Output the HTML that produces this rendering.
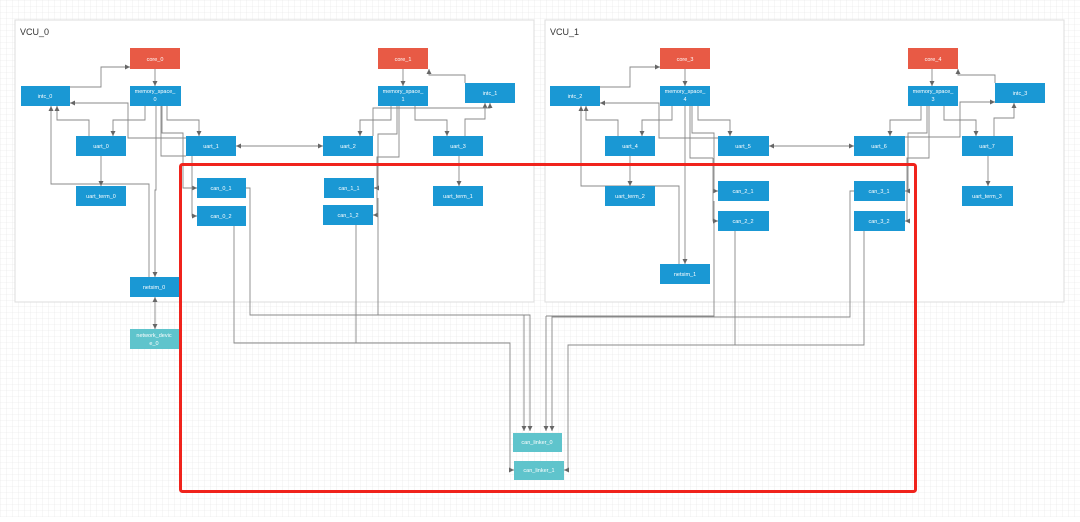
<!DOCTYPE html>
<html><head><meta charset="utf-8"><style>
html,body{margin:0;padding:0;background:#fff}
body{width:1080px;height:517px;overflow:hidden}
svg text{font-family:"Liberation Sans",sans-serif}
</style></head><body>
<svg width="1080" height="517" viewBox="0 0 1080 517" xmlns="http://www.w3.org/2000/svg">
<defs>
<pattern id="g" width="6" height="6" patternUnits="userSpaceOnUse"><path d="M6 0H0V6" fill="none" stroke="#e4e4e4" stroke-width="0.6"/></pattern>
<marker id="a" markerWidth="6" markerHeight="6" refX="5" refY="3" orient="auto" markerUnits="userSpaceOnUse"><path d="M0,0.5 L5,3 L0,5.5z" fill="#666"/></marker>
<marker id="s" markerWidth="6" markerHeight="6" refX="1" refY="3" orient="auto" markerUnits="userSpaceOnUse"><path d="M6,0.5 L1,3 L6,5.5z" fill="#666"/></marker>
</defs>
<rect width="1080" height="517" fill="url(#g)"/>
<rect x="15" y="20" width="519" height="282" fill="#fff" stroke="#ddd"/>
<rect x="545" y="20" width="519" height="282" fill="#fff" stroke="#ddd"/>
<text x="20" y="35" font-size="9" fill="#333">VCU_0</text>
<text x="550" y="35" font-size="9" fill="#333">VCU_1</text>
<g fill="none" stroke="#888" stroke-width="0.9">
<path d="M161 106V156H186"/><path d="M690 106V158H713"/>
<path d="M356 225V343H510"/><path d="M714 201V316H546"/><path d="M864 231V345H568"/>
</g>
<g fill="none" stroke="#888" stroke-width="0.9" marker-end="url(#a)">
<!-- VCU_0 -->
<path d="M155 69V86"/><path d="M70 87H101V67H130"/>
<path d="M145 106V120H113V136"/><path d="M167 106V120H199V136"/>
<path d="M89 136V120H57V106"/><path d="M186 138H128V103H70"/>
<path d="M162 106V133H183V188H197"/><path d="M192 156V216H197"/>
<path d="M156 106V190H155V277"/><path d="M149 277V184H51V106"/>
<path d="M101 156V186"/>
<path d="M236 146H323" marker-start="url(#s)"/>
<path d="M155 297V329" marker-start="url(#s)"/>
<path d="M403 69V86"/><path d="M465 83V75H429V69"/>
<path d="M391 106V120H360V136"/><path d="M415 106V120H447V136"/>
<path d="M465 136V119H485V103"/><path d="M373 136V108H490V103"/>
<path d="M397 106V134H378V188H374"/><path d="M399 106V157H377V215H373"/>
<path d="M459 156V186"/>
<!-- VCU_1 -->
<path d="M685 69V86"/><path d="M600 87H630V67H660"/>
<path d="M672 106V120H642V136"/><path d="M698 106V120H730V136"/>
<path d="M618 136V120H586V106"/><path d="M718 138H659V103H600"/>
<path d="M692 106V133H714V191H718"/><path d="M713 158V221H718"/>
<path d="M685 106V264"/><path d="M679 264V186H581V106"/>
<path d="M630 156V186"/>
<path d="M769 146H854" marker-start="url(#s)"/>
<path d="M932 69V86"/><path d="M995 83V75H958V69"/>
<path d="M921 106V120H890V136"/><path d="M944 106V120H976V136"/>
<path d="M994 136V118H1014V103"/><path d="M905 137H960V102H995"/>
<path d="M927 106V133H908V191H905"/><path d="M929 106V158H907V221H905"/>
<path d="M988 156V186"/>
<!-- bottom -->
<path d="M246 188H250V315H524V431"/><path d="M378 198V315H530V431"/>
<path d="M234 226V343H510V470H514"/>
<path d="M546 316V431"/><path d="M854 191H850V317H552V431"/>
<path d="M735 231V345H568V470H564"/>
</g>
<g font-size="5.5" fill="#fff" text-anchor="middle">
<g fill="#e85a45"><rect x="130" y="48" width="50" height="21"/><rect x="378" y="48" width="50" height="21"/><rect x="660" y="48" width="50" height="21"/><rect x="908" y="48" width="50" height="21"/></g>
<g fill="#1a98d4">
<rect x="21" y="86" width="49" height="20"/><rect x="130" y="86" width="51" height="20"/><rect x="378" y="86" width="50" height="20"/><rect x="465" y="83" width="50" height="20"/>
<rect x="76" y="136" width="50" height="20"/><rect x="186" y="136" width="50" height="20"/><rect x="323" y="136" width="50" height="20"/><rect x="433" y="136" width="50" height="20"/>
<rect x="197" y="178" width="49" height="20"/><rect x="197" y="206" width="49" height="20"/><rect x="324" y="178" width="50" height="20"/><rect x="323" y="205" width="50" height="20"/>
<rect x="76" y="186" width="50" height="20"/><rect x="433" y="186" width="50" height="20"/><rect x="130" y="277" width="49" height="20"/>
<rect x="550" y="86" width="50" height="20"/><rect x="660" y="86" width="50" height="20"/><rect x="908" y="86" width="50" height="20"/><rect x="995" y="83" width="50" height="20"/>
<rect x="605" y="136" width="50" height="20"/><rect x="718" y="136" width="51" height="20"/><rect x="854" y="136" width="51" height="20"/><rect x="962" y="136" width="51" height="20"/>
<rect x="605" y="186" width="50" height="20"/><rect x="718" y="181" width="51" height="20"/><rect x="718" y="211" width="51" height="20"/><rect x="854" y="181" width="51" height="20"/><rect x="854" y="211" width="51" height="20"/><rect x="962" y="186" width="51" height="20"/><rect x="660" y="264" width="50" height="20"/>
</g>
<g fill="#5fc4cc"><rect x="130" y="329" width="49" height="20"/><rect x="513" y="433" width="49" height="19"/><rect x="514" y="461" width="50" height="19"/></g>
<text x="155" y="61">core_0</text><text x="403" y="61">core_1</text><text x="685" y="61">core_3</text><text x="933" y="61">core_4</text>
<text x="45" y="98">intc_0</text><text x="155" y="93">memory_space_</text><text x="155" y="101">0</text><text x="403" y="93">memory_space_</text><text x="403" y="101">1</text><text x="490" y="95">intc_1</text>
<text x="101" y="148">uart_0</text><text x="211" y="148">uart_1</text><text x="348" y="148">uart_2</text><text x="458" y="148">uart_3</text>
<text x="221" y="190">can_0_1</text><text x="221" y="218">can_0_2</text><text x="349" y="190">can_1_1</text><text x="348" y="217">can_1_2</text>
<text x="101" y="198">uart_term_0</text><text x="458" y="198">uart_term_1</text><text x="154" y="289">netsim_0</text>
<text x="154" y="337">network_devic</text><text x="154" y="345">e_0</text>
<text x="575" y="98">intc_2</text><text x="685" y="93">memory_space_</text><text x="685" y="101">4</text><text x="933" y="93">memory_space_</text><text x="933" y="101">3</text><text x="1020" y="95">intc_3</text>
<text x="630" y="148">uart_4</text><text x="743" y="148">uart_5</text><text x="879" y="148">uart_6</text><text x="987" y="148">uart_7</text>
<text x="630" y="198">uart_term_2</text><text x="743" y="193">can_2_1</text><text x="743" y="223">can_2_2</text><text x="879" y="193">can_3_1</text><text x="879" y="223">can_3_2</text><text x="987" y="198">uart_term_3</text><text x="685" y="276">netsim_1</text>
<text x="537" y="444">can_linker_0</text><text x="539" y="472">can_linker_1</text>
</g>
<rect x="180.5" y="164.5" width="735" height="327" rx="2" fill="none" stroke="#f0231c" stroke-width="3"/>
</svg>
</body></html>
